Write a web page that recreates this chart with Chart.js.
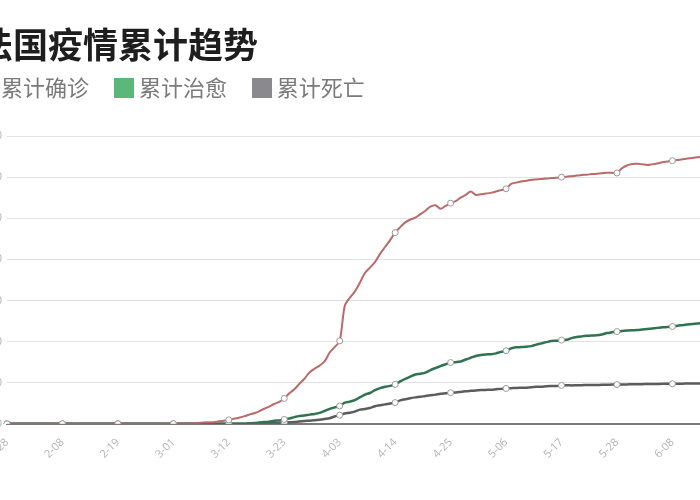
<!DOCTYPE html>
<html>
<head>
<meta charset="utf-8">
<script src="https://cdn.jsdelivr.net/npm/chart.js@4.4.1/dist/chart.umd.min.js"></script>
<style>
  html, body { margin: 0; padding: 0; background: #ffffff; overflow: hidden; }
  #wrap { position: absolute; left: -22px; top: 0; width: 738px; height: 500px; }
</style>
</head>
<body>
<div id="wrap"><canvas id="c"></canvas></div>
<script>
// ---- data ----
const titleText = '法国疫情累计趋势';
const seriesNames = ['累计确诊', '累计治愈', '累计死亡'];
const startDate = '2020-01-28';
const dayCount = 139; // 1-28 .. 6-14
const tickLabels = ['1-28','2-08','2-19','3-01','3-12','3-23','4-03','4-14','4-25','5-06','5-17','5-28','6-08'];

const confirmed = [
  4,5,5,6,6,6,6,6,6,6,6,                       // 1-28 .. 2-07
  11,11,11,11,11,11,11,                        // 2-08 .. 2-14
  12,12,12,12,12,12,12,12,12,12,               // 2-15 .. 2-24
  14,18,38,57,100,                             // 2-25 .. 2-29
  130,191,204,288,380,656,957,1136,1219,1794,2293, // 3-01 .. 3-11
  2876,3661,4499,5423,6633,7730,9134,10995,12612,14459,16018, // 3-12 .. 3-22
  18500,22300,25200,29200,32900,37500,40200,42500,45500,52000,56000, // 3-23 .. 4-02
  60500,86000,92000,96500,103000,110000,114000,118000,124000,129000,134000, // 4-03 .. 4-13
  139500,143500,147000,149000,150500,153000,155500,158500,159500,157000,159000, // 4-14 .. 4-24
  161000,162500,165000,167000,169500,167000,167500,168000,168500,169500,170500, // 4-25 .. 5-05
  171500,175000,176000,176800,177400,178000,178300,178600,179000,179300,179600, // 5-06 .. 5-16
  180000,180300,180700,181100,181500,181800,182200,182500,182900,183100,183200, // 5-17 .. 5-27
  183000,186500,188500,189500,189800,189400,188800,189300,190000,190800,191400, // 5-28 .. 6-07
  192000,192500,193000,193500,194000,194500,195000                             // 6-08 .. 6-14
];
const recovered = [
  0,0,0,0,0,0,0,0,0,0,0,
  0,0,0,0,2,2,2,
  4,4,4,4,4,4,4,4,4,4,
  11,11,11,11,12,
  12,12,12,12,12,12,12,12,12,12,12,
  12,12,12,12,300,600,900,1300,1600,2200,2500,
  3200,3900,4900,5700,6000,6700,7200,8000,9400,10900,12000,
  13000,15400,16200,17300,19300,21300,22500,24500,26000,27000,27700,
  28800,30900,32800,34400,36000,36600,37400,39200,40700,42100,43500,
  44700,45000,45500,46900,48200,49500,50200,50600,50800,51400,52500,
  53300,55000,55800,56000,56200,56700,57800,58700,59600,60400,60600,
  61100,61300,62500,63300,63800,64200,64500,64600,65200,66200,66800,
  67300,67800,68100,68300,68400,68800,69200,69600,70000,70400,70600,
  71000,71600,72000,72400,72800,73200,73600
];
const deaths = [
  0,0,0,0,0,0,0,0,0,0,0,
  0,0,0,0,0,0,0,
  1,1,1,1,1,1,1,1,1,1,
  1,2,2,2,2,
  2,2,2,2,4,9,11,19,25,33,48,
  61,79,91,127,148,175,264,372,450,562,674,
  860,1100,1331,1696,1995,2314,2606,3024,3523,4032,5387,
  6300,7560,8078,8911,10328,10869,11500,12800,13500,14200,14800,
  15500,17100,17900,18700,19300,19700,20300,20800,21300,21900,22250,
  22700,22900,23300,23700,24100,24400,24600,24750,24900,25200,25500,
  25800,26000,26200,26300,26400,26650,27000,27100,27400,27550,27650,
  28000,28150,28050,28150,28200,28300,28330,28370,28430,28530,28600,
  28660,28710,28770,28800,28830,28940,29020,29070,29110,29150,29160,
  29210,29300,29320,29350,29370,29400,29410
];
const yMax = 210000;
const yStep = 30000;

// ---- category labels (dates) ----
const dates = [];
{
  const d0 = new Date(startDate + 'T00:00:00Z');
  for (let i = 0; i < dayCount; i++) {
    const d = new Date(d0.getTime() + i * 86400000);
    const m = d.getUTCMonth() + 1;
    const dd = String(d.getUTCDate()).padStart(2, '0');
    dates.push(m + '-' + dd);
  }
}

// ---- styles ----
const lineColors = ['#bb6a6a', '#2f7350', '#5c5c5e'];
const legendColors = ['#d9807e', '#5cb87a', '#8a8a8e'];

function squareImage(color) {
  const cv = document.createElement('canvas');
  cv.width = 20; cv.height = 20;
  const g = cv.getContext('2d');
  g.fillStyle = color; g.fillRect(0, 0, 20, 20);
  return cv;
}
const legendImgs = legendColors.map(squareImage);

const isTick = (i) => tickLabels.includes(dates[i]);
const pointR = (ctx) => isTick(ctx.index) ? 3 : 0;

const seriesData = [confirmed, recovered, deaths];
const datasets = seriesNames.map((name, k) => ({
  label: name,
  data: seriesData[k],
  borderColor: lineColors[k],
  backgroundColor: legendColors[k],
  borderWidth: k === 0 ? 2 : 2.5,
  fill: false,
  tension: 0.3,
  pointRadius: pointR,
  pointHoverRadius: pointR,
  pointBackgroundColor: '#ffffff',
  pointBorderColor: '#9a9a9a',
  pointBorderWidth: 1,
  pointStyle: 'circle'
}));

const legendSpace = {
  id: 'legendSpace',
  beforeInit(chart) {
    const orig = chart.legend.fit;
    chart.legend.fit = function () {
      orig.call(this);
      this.height += 27;
    };
  }
};

const CJK = '"Noto Sans CJK SC", "Noto Sans", sans-serif';

new Chart(document.getElementById('c'), {
  type: 'line',
  data: { labels: dates, datasets },
  plugins: [legendSpace],
  options: {
    responsive: true,
    maintainAspectRatio: false,
    animation: false,
    layout: { padding: { left: 0, right: 5, top: 0, bottom: 35 } },
    plugins: {
      tooltip: { enabled: false },
      title: {
        display: true,
        text: titleText,
        align: 'start',
        color: '#1e1e1e',
        font: { family: CJK, size: 35, weight: 'bold', lineHeight: 1.2 },
        padding: { top: 24, bottom: 7 }
      },
      legend: {
        display: true,
        align: 'start',
        labels: {
          usePointStyle: true,
          pointStyleWidth: 8,
          padding: 4,
          color: '#7a7a7a',
          font: { family: CJK, size: 22 },
          generateLabels(chart) {
            const items = Chart.defaults.plugins.legend.labels.generateLabels(chart);
            return items.map((it, i) => Object.assign(it, {
              text: it.text + '\u3000 ',
              pointStyle: legendImgs[i],
              lineWidth: 0
            }));
          }
        }
      }
    },
    scales: {
      x: {
        grid: { display: false },
        border: { display: true, color: '#7a7a7a', width: 2 },
        ticks: {
          autoSkip: false,
          minRotation: 45,
          maxRotation: 45,
          padding: 4,
          color: '#b4b4b4',
          font: { family: '"Open Sans", sans-serif', size: 11 },
          callback: (v, i) => isTick(i) ? dates[i] : ''
        }
      },
      y: {
        min: 0,
        max: yMax,
        afterFit: (s) => { s.width = 29; },
        grid: { color: '#e2e2e2', lineWidth: 1, drawTicks: false },
        border: { display: false },
        ticks: {
          stepSize: yStep,
          padding: 5,
          color: '#b4b4b4',
          font: { family: '"Open Sans", sans-serif', size: 11 }
        }
      }
    }
  }
});
</script>
</body>
</html>
